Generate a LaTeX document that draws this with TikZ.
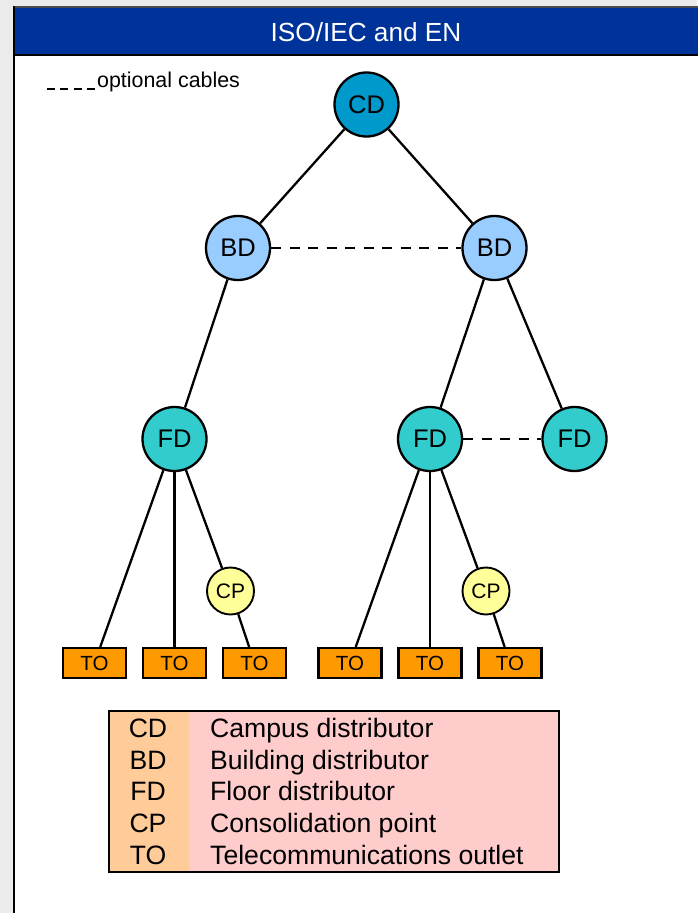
\documentclass[tikz,border=0pt]{standalone}
\usepackage{fontspec}
\setmainfont{Liberation Sans}
\definecolor{bggray}{HTML}{EBEBEB}
\definecolor{headblue}{HTML}{003399}
\definecolor{cdcol}{HTML}{0099CC}
\definecolor{bdcol}{HTML}{99CCFF}
\definecolor{fdcol}{HTML}{33CCCC}
\definecolor{cpcol}{HTML}{FFFF99}
\definecolor{tocol}{HTML}{FF9900}
\definecolor{legorange}{HTML}{FFCC99}
\definecolor{legpink}{HTML}{FFCCCC}
\begin{document}
\begin{tikzpicture}[x=1pt,y=-1pt,
  bignode/.style={circle, draw=black, line width=2.3pt, minimum size=64pt, inner sep=0pt, font=\fontsize{25.5}{30}\selectfont},
  cpnode/.style={circle, draw=black, line width=1.9pt, fill=cpcol, minimum size=47pt, inner sep=0pt, font=\fontsize{21}{24}\selectfont},
  tobox/.style={rectangle, draw=black, line width=2.1pt, fill=tocol, minimum width=63pt, minimum height=30pt, inner sep=0pt, font=\fontsize{20.5}{24}\selectfont},
  link/.style={line width=2.3pt},
  optlink/.style={line width=2.3pt, dash pattern=on 10pt off 8.5pt},
  legtext/.style={font=\fontsize{26.6}{30}\selectfont, inner sep=0pt}]
\useasboundingbox (0,0) rectangle (697,913);
% background and frame
\fill[bggray] (0,0) rectangle (697,913);
\fill[white] (14,7) rectangle (700,916);
\fill[headblue] (14,7) rectangle (700,55);
\draw[black!70, line width=1.5pt] (14,7) -- (700,7);
\draw[black, line width=2pt] (14,55) -- (700,55);
\draw[black, line width=2pt] (14.3,6.3) -- (14.3,916);
\node[anchor=base, text=white, inner sep=0pt, font=\fontsize{26.2}{30}\selectfont] (title) at (366,41) {ISO/IEC and EN};
% optional cables key
\coordinate (keyA) at (47,89);
\coordinate (keyB) at (96,89);
\draw[line width=1.7pt, dash pattern=on 8pt off 5.3pt] (keyA) -- (keyB);
\node[anchor=base west, inner sep=0pt, font=\fontsize{21.4}{25}\selectfont] (keytext) at (97,87) {optional cables};
% nodes
\node[bignode, fill=cdcol] (CD) at (366.5,104.5) {CD};
\node[bignode, fill=bdcol] (BDL) at (238,248) {BD};
\node[bignode, fill=bdcol] (BDR) at (494.5,248) {BD};
\node[bignode, fill=fdcol] (FDL) at (174.5,439) {FD};
\node[bignode, fill=fdcol] (FDM) at (430,439) {FD};
\node[bignode, fill=fdcol] (FDR) at (574.5,439) {FD};
\node[cpnode] (CPL) at (230.5,591) {CP};
\node[cpnode] (CPR) at (486,591) {CP};
\node[tobox] (TO1) at (94.5,663) {TO};
\node[tobox] (TO2) at (174.5,663) {TO};
\node[tobox] (TO3) at (254.5,663) {TO};
\node[tobox] (TO4) at (350,663) {TO};
\node[tobox] (TO5) at (430,663) {TO};
\node[tobox] (TO6) at (510,663) {TO};
% connectors
\draw[link] (CD) -- (BDL);
\draw[link] (CD) -- (BDR);
\draw[optlink] (BDL) -- (BDR);
\draw[link] (BDL) -- (FDL);
\draw[link] (BDR) -- (FDM);
\draw[link] (BDR) -- (FDR);
\draw[optlink] (FDM) -- (FDR);
\draw[link] (FDL) -- (TO1);
\draw[link] (FDL) -- (TO2);
\draw[link] (FDL) -- (CPL);
\draw[link] (CPL) -- (TO3);
\draw[link] (FDM) -- (TO4);
\draw[link] (FDM) -- (TO5);
\draw[link] (FDM) -- (CPR);
\draw[link] (CPR) -- (TO6);
% legend
\fill[legpink] (109,711) rectangle (559,872);
\fill[legorange] (109,711) rectangle (189,872);
\draw[black, line width=1.5pt] (109,711) rectangle (559,872);
\node[legtext, anchor=base] (L1a) at (148,737) {CD};
\node[legtext, anchor=base] (L2a) at (148,769) {BD};
\node[legtext, anchor=base] (L3a) at (148,800.5) {FD};
\node[legtext, anchor=base] (L4a) at (148,832) {CP};
\node[legtext, anchor=base] (L5a) at (148,864) {TO};
\node[legtext, anchor=base west] (L1b) at (210,737) {Campus distributor};
\node[legtext, anchor=base west] (L2b) at (210,769) {Building distributor};
\node[legtext, anchor=base west] (L3b) at (210,800.5) {Floor distributor};
\node[legtext, anchor=base west] (L4b) at (210,832) {Consolidation point};
\node[legtext, anchor=base west] (L5b) at (210,864) {Telecommunications outlet};
\end{tikzpicture}
\end{document}
